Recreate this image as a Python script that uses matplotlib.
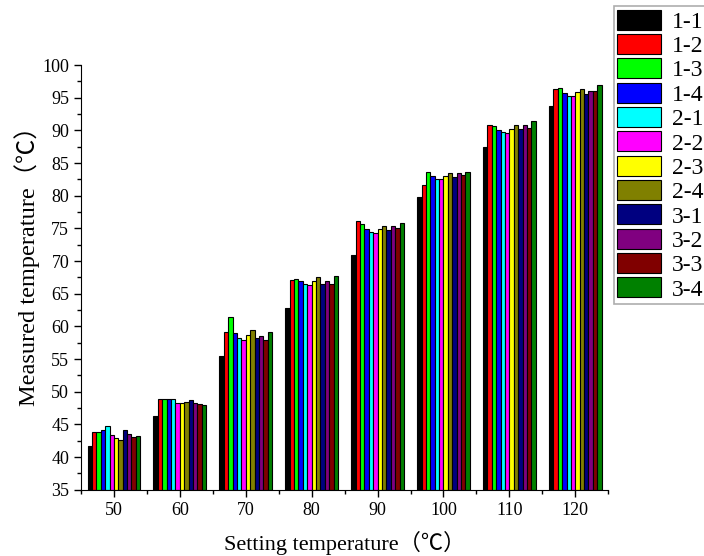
import matplotlib
matplotlib.use("Agg")
import matplotlib.pyplot as plt
import numpy as np

plt.rcParams['font.family'] = ['Liberation Serif', 'Noto Sans CJK SC', 'DejaVu Sans']

setting = [50, 60, 70, 80, 90, 100, 110, 120]
series_names = ["1-1", "1-2", "1-3", "1-4", "2-1", "2-2", "2-3", "2-4", "3-1", "3-2", "3-3", "3-4"]
colors = ["#000000", "#FF0000", "#00FF00", "#0000FF", "#00FFFF", "#FF00FF",
          "#FFFF00", "#808000", "#000080", "#800080", "#800000", "#008000"]

# measured values per series (one value per setting temperature)
s_1_1 = [41.7, 46.3, 55.5, 62.9, 70.9, 79.8, 87.5, 93.8]
s_1_2 = [43.9, 48.9, 59.1, 67.1, 76.1, 81.6, 90.9, 96.3]
s_1_3 = [43.9, 48.9, 61.4, 67.3, 75.7, 83.6, 90.6, 96.5]
s_1_4 = [44.1, 48.9, 59.0, 66.9, 74.9, 83.0, 90.0, 95.7]
s_2_1 = [44.8, 48.9, 58.3, 66.5, 74.5, 82.6, 89.7, 95.2]
s_2_2 = [43.4, 48.3, 58.0, 66.3, 74.3, 82.6, 89.6, 95.2]
s_2_3 = [43.0, 48.3, 58.7, 67.0, 74.9, 83.0, 90.2, 95.8]
s_2_4 = [42.6, 48.5, 59.4, 67.5, 75.4, 83.5, 90.8, 96.4]
s_3_1 = [44.2, 48.8, 58.3, 66.5, 74.8, 82.9, 90.2, 95.5]
s_3_2 = [43.6, 48.3, 58.5, 67.0, 75.3, 83.5, 90.8, 96.1]
s_3_3 = [43.1, 48.2, 57.9, 66.5, 75.0, 83.2, 90.4, 96.1]
s_3_4 = [43.2, 48.0, 59.1, 67.7, 75.9, 83.7, 91.4, 97.0]
series = [s_1_1, s_1_2, s_1_3, s_1_4, s_2_1, s_2_2, s_2_3, s_2_4,
          s_3_1, s_3_2, s_3_3, s_3_4]

fig = plt.figure(figsize=(7.04, 5.56), dpi=100)
ax = fig.add_axes([0.115, 0.119, 0.749, 0.764])

n = len(series)
w = 8.0 / n
x = np.array(setting, dtype=float)
for i, (vals, c, name) in enumerate(zip(series, colors, series_names)):
    ax.bar(x + (i - (n - 1) / 2) * w, np.array(vals) - 35, bottom=35, width=w,
           color=c, edgecolor='black', linewidth=0.8, label=name)

ax.set_xlim(45, 125)
ax.set_ylim(35, 100)
ax.set_xticks(setting)
ax.set_xticks(np.arange(45, 126, 10), minor=True)
ax.set_yticks(np.arange(35, 101, 5))
ax.set_yticks(np.arange(35, 100.1, 2.5), minor=True)
ax.spines['top'].set_visible(False)
ax.spines['right'].set_visible(False)
ax.tick_params(which='major', direction='out', length=5, width=1, labelsize=13, colors='black')
ax.tick_params(which='minor', direction='out', length=3, width=1)
ax.set_xlabel("Setting temperature（℃）", fontsize=16, labelpad=9)
ax.set_ylabel("Measured temperature（℃）", fontsize=17.5)
ax.yaxis.set_label_coords(-0.078, 0.54)

leg = fig.legend(loc='upper left', bbox_to_anchor=(0.872, 0.989), fontsize=17,
                 handlelength=1.85, handleheight=0.93, handletextpad=0.45,
                 labelspacing=0.05, borderpad=0.15, borderaxespad=0,
                 frameon=True, fancybox=False, edgecolor='#999999')
leg.get_frame().set_linewidth(1.2)

fig.savefig("out.png", dpi=100)
